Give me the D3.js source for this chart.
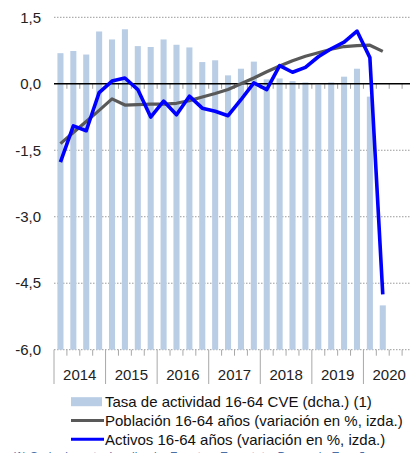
<!DOCTYPE html>
<html>
<head>
<meta charset="utf-8">
<script src="https://cdn.jsdelivr.net/npm/d3@7"></script>
<style>
  body { margin: 0; background: #fff; }
  svg { display: block; font-family: "Liberation Sans", Arial, sans-serif; }
</style>
</head>
<body>
<svg id="chart" width="410" height="453"></svg>
<script>
// quarters on the axis (2020 Q3/Q4 are empty slots)
var years = ["2014", "2015", "2016", "2017", "2018", "2019", "2020"];
var quarters = [];
years.forEach(function(y) { ["I", "II", "III", "IV"].forEach(function(q) { quarters.push(y + q); }); });

// Tasa de actividad 16-64 CVE (dcha.), %
var tasa = [75.69, 75.74, 75.66, 76.18, 76.00, 76.23, 75.85, 75.83,
            76.00, 75.88, 75.82, 75.49, 75.53, 75.19, 75.34, 75.50,
            75.10, 75.12, 75.06, 75.03, 74.98, 75.03, 75.16, 75.34,
            74.71, 70.00];
// Población 16-64 años (variación en %, izda.)
var poblacion = [-1.35, -1.10, -0.85, -0.60, -0.34, -0.48, -0.47, -0.46,
                 -0.46, -0.44, -0.38, -0.30, -0.22, -0.13, 0.00, 0.13,
                 0.27, 0.40, 0.52, 0.62, 0.70, 0.78, 0.84, 0.86,
                 0.87, 0.73];
// Activos 16-64 años (variación en %, izda.)
var activos = [-1.77, -0.95, -1.06, -0.20, 0.06, 0.13, -0.13, -0.75,
               -0.39, -0.70, -0.28, -0.55, -0.62, -0.72, -0.36, 0.02,
               -0.13, 0.41, 0.26, 0.37, 0.61, 0.79, 0.94, 1.19,
               0.59, -4.75];
var yTicks = [1.5, 0, -1.5, -3, -4.5, -6];
var legendLabels = ["Tasa de actividad 16-64 CVE (dcha.) (1)",
                    "Población 16-64 años (variación en %, izda.)",
                    "Activos 16-64 años (variación en %, izda.)"];

(function() {
  var margin = { left: 54, right: 415, top: 17.3, bottom: 349.7 };
  var svg = d3.select("#chart");

  var x = d3.scaleBand().domain(quarters).range([margin.left, margin.right]).paddingInner(0.53).paddingOuter(0.265);
  var xq = d3.scaleBand().domain(quarters).range([margin.left, margin.right]);
  var y = d3.scaleLinear().domain([-6, 1.5]).range([margin.bottom, margin.top]);
  // right axis (hidden), same span as the left one
  var y2 = d3.scaleLinear().domain([69, 76.5]).range([margin.bottom, margin.top]);

  // spanish style: comma decimal, plain hyphen for minus
  var es = d3.formatLocale({ decimal: ",", thousands: ".", grouping: [3], currency: ["", " €"], minus: "-" });
  var fmt = es.format(".1f");

  // gridlines (dotted)
  svg.append("g").selectAll("line")
    .data(yTicks.filter(function(d) { return d !== 0; }))
    .enter().append("line")
    .attr("x1", margin.left).attr("x2", 410)
    .attr("y1", function(d) { return y(d); }).attr("y2", function(d) { return y(d); })
    .attr("stroke", "#9a9a9a").attr("stroke-width", 1).attr("stroke-dasharray", "1.5,1.5");

  // bars
  svg.append("g").selectAll("rect")
    .data(tasa)
    .enter().append("rect")
    .attr("x", function(d, i) { return x(quarters[i]); })
    .attr("width", x.bandwidth())
    .attr("y", function(d) { return y2(d); })
    .attr("height", function(d) { return y2(69) - y2(d); })
    .attr("fill", "#b9cde5");

  // y labels
  svg.append("g").selectAll("text")
    .data(yTicks)
    .enter().append("text")
    .attr("x", 41).attr("y", function(d) { return y(d); })
    .attr("dy", "0.35em").attr("text-anchor", "end")
    .attr("font-size", 15).attr("fill", "#222")
    .text(fmt);

  // zero line + quarter ticks
  svg.append("g").selectAll("line")
    .data(quarters.slice(1))
    .enter().append("line")
    .attr("x1", function(d) { return xq(d); }).attr("x2", function(d) { return xq(d); })
    .attr("y1", y(0)).attr("y2", y(0) + 5)
    .attr("stroke", "#a0a0a0").attr("stroke-width", 1);
  svg.append("line")
    .attr("x1", margin.left).attr("x2", 410).attr("y1", y(0)).attr("y2", y(0))
    .attr("stroke", "#000").attr("stroke-width", 1.5);

  // bottom axis: quarter ticks and year separators
  svg.append("g").selectAll("line")
    .data(quarters)
    .enter().append("line")
    .attr("x1", function(d) { return xq(d); }).attr("x2", function(d) { return xq(d); })
    .attr("y1", margin.bottom)
    .attr("y2", function(d, i) { return i % 4 === 0 ? 384 : margin.bottom + 6; })
    .attr("stroke", "#a8a8a8").attr("stroke-width", 1);
  svg.append("g").selectAll("text")
    .data(years)
    .enter().append("text")
    .attr("x", function(d) { return xq(d + "I") + xq.bandwidth() * 2; })
    .attr("y", 380)
    .attr("text-anchor", "middle").attr("font-size", 15).attr("fill", "#222")
    .text(function(d) { return d; });

  // lines
  var line = function(vals) {
    return d3.line()
      .x(function(d, i) { return x(quarters[i]) + x.bandwidth() / 2; })
      .y(function(d) { return y(d); })(vals);
  };
  svg.append("path").attr("d", line(poblacion))
    .attr("fill", "none").attr("stroke", "#595959").attr("stroke-width", 3.2)
    .attr("stroke-linejoin", "round");
  svg.append("path").attr("d", line(activos))
    .attr("fill", "none").attr("stroke", "#0000ff").attr("stroke-width", 3.6)
    .attr("stroke-linejoin", "round");

  // legend
  var lg = svg.append("g");
  var ly = [401.7, 420.5, 439.3];
  lg.append("rect").attr("x", 71).attr("y", ly[0] - 4.5).attr("width", 31).attr("height", 9).attr("fill", "#b9cde5");
  lg.append("line").attr("x1", 71).attr("x2", 104).attr("y1", ly[1]).attr("y2", ly[1]).attr("stroke", "#595959").attr("stroke-width", 3);
  lg.append("line").attr("x1", 71).attr("x2", 104).attr("y1", ly[2]).attr("y2", ly[2]).attr("stroke", "#0000ff").attr("stroke-width", 3);
  lg.selectAll("text")
    .data(legendLabels)
    .enter().append("text")
    .attr("x", 105).attr("y", function(d, i) { return ly[i]; })
    .attr("dy", "0.35em").attr("font-size", 15).attr("fill", "#111")
    .text(function(d) { return d; });

  // footnote, cut off at the bottom edge like in the source
  svg.append("text").attr("x", 12).attr("y", 461)
    .attr("font-size", 12).attr("fill", "#4a6fa5")
    .text("(1) Serie desestacionalizada. Fuentes: Eurostat y Banco de España.");
})();
</script>
</body>
</html>
